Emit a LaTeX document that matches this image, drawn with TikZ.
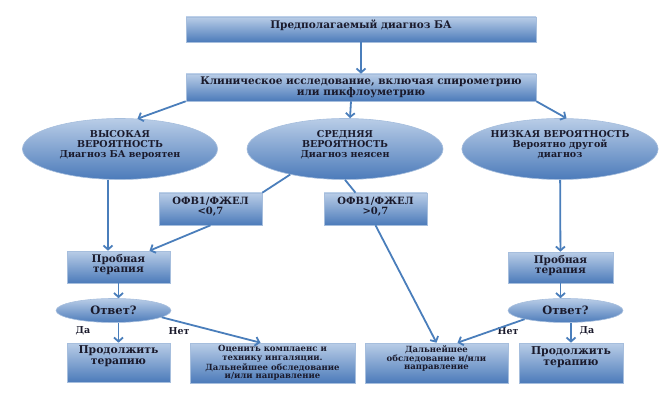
\documentclass[tikz,border=0pt]{standalone}
\usepackage{fontspec}
\setmainfont{DejaVu Serif}
\usetikzlibrary{shapes.geometric, arrows.meta}

\definecolor{flowblue}{HTML}{4A7EBB}
\definecolor{boxtop}{HTML}{B9CDE7}
\definecolor{boxbot}{HTML}{4C7BBA}
\definecolor{boxline}{HTML}{A6BEDD}
\definecolor{ink}{HTML}{1A1A2C}

\newcommand{\fs}[2]{\fontsize{#1}{#2}\selectfont\bfseries}

\begin{document}
\begin{tikzpicture}[x=1pt, y=-1pt,
    box/.style={rectangle, top color=boxtop, bottom color=boxbot, draw=boxline,
        line width=0.6pt, inner sep=1pt, align=center, text=ink},
    oval/.style={ellipse, top color=boxtop, bottom color=boxbot, draw=boxline,
        line width=0.6pt, inner sep=0pt, align=center, text=ink},
    link/.style={flowblue, line width=1.8pt},
    >={Straight Barb[length=4pt, width=9pt]}
]
\useasboundingbox (0,0) rectangle (667,401);

\node[box, minimum width=350pt, minimum height=25pt, text depth=10pt, font=\fs{10.5}{12}] (diag) at (361,29.5) {Предполагаемый диагноз БА};
\node[box, minimum width=350pt, minimum height=27pt, font=\fs{10.5}{11}] (clin) at (361,87.5) {Клиническое исследование, включая спирометрию\\или пикфлоуметрию};

\node[oval, minimum width=195pt, minimum height=61pt, text depth=10pt, font=\fs{9.5}{10}] (high) at (120,149) {ВЫСОКАЯ\\ВЕРОЯТНОСТЬ\\Диагноз БА вероятен};
\node[oval, minimum width=196pt, minimum height=61pt, text depth=10pt, font=\fs{9.5}{10}] (mid) at (345,149) {СРЕДНЯЯ\\ВЕРОЯТНОСТЬ\\Диагноз неясен};
\node[oval, minimum width=194pt, minimum height=61pt, text depth=10pt, font=\fs{9.5}{10}] (low) at (560,149) {НИЗКАЯ ВЕРОЯТНОСТЬ\\Вероятно другой\\диагноз};

\node[box, minimum width=103pt, minimum height=32pt, text depth=7pt, font=\fs{10}{10}] (lt) at (210.5,209) {ОФВ1/ФЖЕЛ\\<0,7};
\node[box, minimum width=103pt, minimum height=32pt, text depth=7pt, font=\fs{10}{10}] (gt) at (375.5,209) {ОФВ1/ФЖЕЛ\\>0,7};

\node[box, minimum width=103pt, minimum height=32pt, text depth=7pt, font=\fs{10.5}{10}] (trialL) at (118.5,267) {Пробная\\терапия};
\node[box, minimum width=105pt, minimum height=31pt, text depth=7pt, font=\fs{10.5}{10}] (trialR) at (560.5,267.5) {Пробная\\терапия};

\node[oval, minimum width=115pt, minimum height=24pt, font=\fs{11.5}{12}] (ansL) at (113.5,310.5) {Ответ?};
\node[oval, minimum width=115pt, minimum height=24pt, font=\fs{11.5}{12}] (ansR) at (565.5,310.5) {Ответ?};

\node[box, minimum width=103pt, minimum height=39pt, text depth=14pt, font=\fs{10.8}{11}] (contL) at (118.5,362.5) {Продолжить\\терапию};
\node[box, minimum width=165pt, minimum height=40pt, font=\fs{8.5}{8.5}] (check) at (272.5,363) {Оценить комплаенс и\\технику ингаляции.\\Дальнейшее обследование\\и/или направление};
\node[box, minimum width=143pt, minimum height=40pt, text depth=10pt, font=\fs{8.5}{8.5}] (further) at (436.5,363) {Дальнейшее\\обследование и/или\\направление};
\node[box, minimum width=104pt, minimum height=40pt, text depth=14pt, font=\fs{10.8}{11}] (contR) at (571,363) {Продолжить\\терапию};

\foreach \x/\w [count=\i] in {83/Да, 179/Нет, 508/Нет, 587/Да}
    \node[font=\fs{9.5}{10}, text=ink] (answer\i) at (\x,331) {\w};

\draw[link, ->] (diag) -- (clin);
\draw[link, ->] (clin.south west) -- (high.60);
\draw[link, ->] ([xshift=-10pt]clin.south) -- ([xshift=5pt]mid.north);
\draw[link, ->] (clin.south east) -- (low.78);

\draw[link] (mid.205) -- (lt.north east);
\draw[link] (mid.south) -- ([xshift=-20pt]gt.north);

\draw[link, ->] ([xshift=-12pt]high.south) -- ([xshift=-10.5pt]trialL.north);
\draw[link, ->] (lt.south) -- ([xshift=31pt]trialL.north);
\draw[link, ->] (low) -- (trialR);
\draw[link, ->] (gt.south) -- (further.north);

\draw[link, ->] (trialL.south) -- (trialL.south |- ansL.north);
\draw[link, ->] (trialR.south) -- (trialR.south |- ansR.north);
\draw[link, ->] (contL.north |- ansL.south) -- (contL.north);
\draw[link, ->] (contR.north |- ansR.south) -- (contR.north);
\draw[link, ->] (ansL.-8) -- ([xshift=-12pt]check.north);
\draw[link, ->] (ansR.192) -- ([xshift=21pt]further.north);

\end{tikzpicture}
\end{document}
